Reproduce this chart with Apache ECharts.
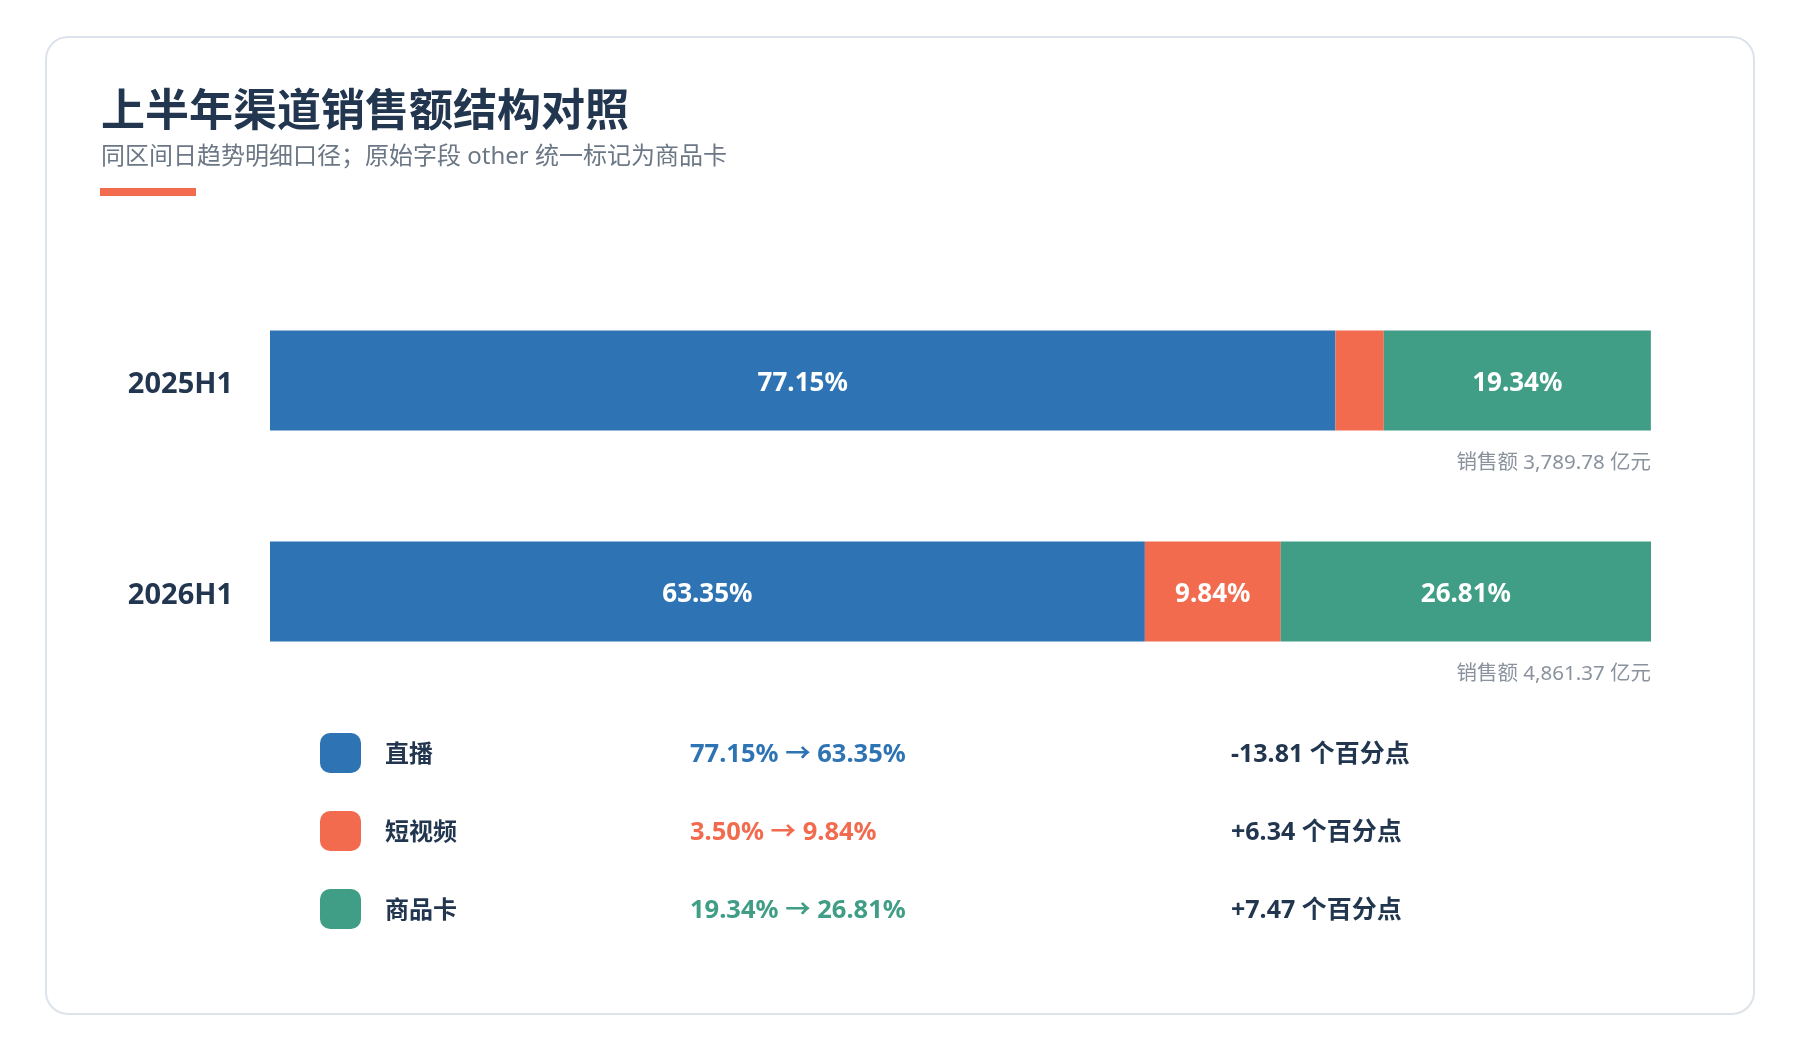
<!DOCTYPE html>
<html>
<head>
<meta charset="utf-8">
<title>上半年渠道销售额结构对照</title>
<script src="https://cdn.jsdelivr.net/npm/echarts@6/dist/echarts.min.js"></script>
<style>
  html, body { margin: 0; padding: 0; background: #ffffff; }
  #chart { width: 1800px; height: 1050px; }
</style>
</head>
<body>
<div id="chart"></div>
<script>
// 数据
const periods = ['2025H1', '2026H1'];
const channels = ['直播', '短视频', '商品卡'];
const liveShare = [77.15, 63.35];
const shortVideoShare = [3.50, 9.84];
const productCardShare = [19.34, 26.81];
const salesTotals = [3789.78, 4861.37]; // 亿元
const shareDeltas = [-13.81, 6.34, 7.47]; // 个百分点
const colors = ['#2e73b3', '#f26b4e', '#3f9e85'];

const FONT = '"Noto Sans", "Noto Sans CJK SC", sans-serif';
const DARK = '#22374f';
const GRAY = '#6b7785';

const shares = [liveShare, shortVideoShare, productCardShare];

const fmtPct = v => v.toFixed(2) + '%';
const fmtDelta = v => (v > 0 ? '+' : '') + v.toFixed(2) + ' 个百分点';
const fmtMoney = v => v.toLocaleString('en-US', { minimumFractionDigits: 2, maximumFractionDigits: 2 });

const chart = echarts.init(document.getElementById('chart'));

const barSeries = channels.map((name, i) => ({
  name: name,
  type: 'bar',
  stack: 'share',
  barWidth: 100,
  itemStyle: { color: colors[i] },
  emphasis: { disabled: true },
  label: {
    show: true,
    position: 'inside',
    offset: [0, 3],
    color: '#ffffff',
    fontFamily: FONT,
    fontWeight: 'bold',
    fontSize: 26,
    // 太窄的段不显示
    formatter: p => (p.value < 5 ? '' : fmtPct(p.value))
  },
  data: shares[i]
}));

// 每行下方的销售额
const totalSeries = {
  name: 'total',
  type: 'scatter',
  symbolSize: 0,
  silent: true,
  label: {
    show: true,
    position: 'left',
    distance: 0,
    offset: [0, 83],
    color: GRAY,
    fontFamily: FONT,
    fontSize: 20.5,
    formatter: p => '销售额 ' + fmtMoney(salesTotals[p.dataIndex]) + ' 亿元'
  },
  data: periods.map(p => [100, p])
};

// 图例做成对照表
const richRows = {
  name: { width: 305, padding: [0, 0, 0, 19], fontSize: 24, fontWeight: 'bold', color: DARK, fontFamily: FONT },
  delta: { fontSize: 25, fontWeight: 'bold', color: DARK, fontFamily: FONT }
};
channels.forEach((c, i) => {
  richRows['chg' + i] = { width: 541, fontSize: 25.5, fontWeight: 'bold', color: colors[i], fontFamily: FONT };
});

chart.setOption({
  backgroundColor: '#ffffff',
  animation: false,
  title: {
    text: '上半年渠道销售额结构对照',
    subtext: '同区间日趋势明细口径；原始字段 other 统一标记为商品卡',
    left: 96,
    top: 86,
    itemGap: 10,
    textStyle: { fontSize: 44, fontWeight: 'bold', color: DARK, fontFamily: FONT },
    subtextStyle: { fontSize: 24, color: GRAY, fontFamily: FONT }
  },
  graphic: [
    {
      type: 'rect',
      z: -10,
      shape: { x: 46, y: 37, width: 1708, height: 977, r: 22 },
      style: { fill: '#ffffff', stroke: '#dde3ea', lineWidth: 2 }
    },
    {
      type: 'rect',
      shape: { x: 100, y: 188, width: 96, height: 8 },
      style: { fill: '#f26b4e' }
    }
  ],
  legend: {
    orient: 'vertical',
    left: 315,
    top: 728,
    itemWidth: 41,
    itemHeight: 40,
    itemGap: 38,
    icon: 'roundRect',
    selectedMode: false,
    data: channels,
    formatter: name => {
      const i = channels.indexOf(name);
      const s = shares[i];
      return '{name|' + name + '}{chg' + i + '|' + fmtPct(s[0]) + ' → ' + fmtPct(s[1]) + '}{delta|' + fmtDelta(shareDeltas[i]) + '}';
    },
    textStyle: { rich: richRows, padding: [4, 0, 0, 0] }
  },
  grid: { left: 270, right: 149, top: 275, height: 422 },
  xAxis: {
    type: 'value',
    min: 0,
    max: 100,
    show: false
  },
  yAxis: {
    type: 'category',
    inverse: true,
    data: periods,
    axisLine: { show: false },
    axisTick: { show: false },
    axisLabel: {
      margin: 37,
      fontSize: 29,
      fontWeight: 'bold',
      color: DARK,
      fontFamily: FONT,
      formatter: v => '{p|' + v + '}',
      rich: {
        p: { fontSize: 29, fontWeight: 'bold', color: DARK, fontFamily: FONT, padding: [8, 0, 0, 0] }
      }
    }
  },
  series: barSeries.concat([totalSeries])
});
</script>
</body>
</html>
